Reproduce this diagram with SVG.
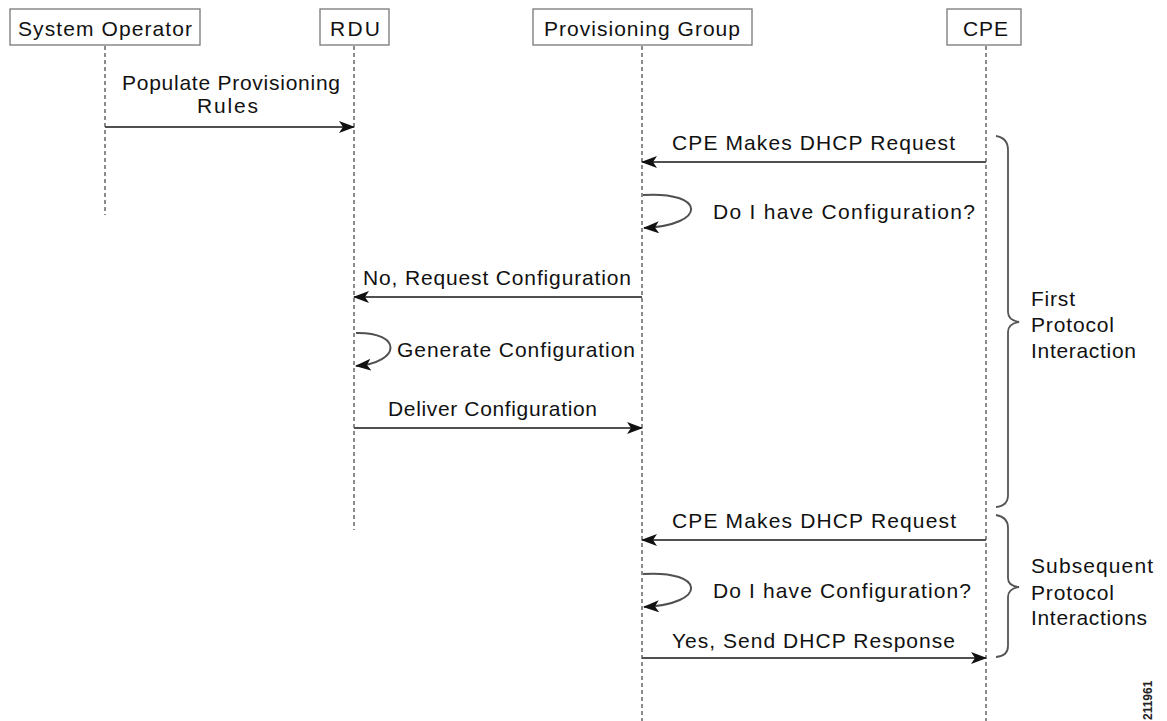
<svg xmlns="http://www.w3.org/2000/svg" width="1167" height="721" viewBox="0 0 1167 721">
<style>
.t{font-family:"Liberation Sans",Arial,sans-serif;font-size:21px;fill:#111;}
.box{fill:#fff;stroke:#777;stroke-width:1.3;}
.life{stroke:#666;stroke-width:1.5;stroke-dasharray:4 3;fill:none;}
.msg{stroke:#505050;stroke-width:2;fill:none;}
.brace{stroke:#555;stroke-width:1.8;fill:none;}
</style>
<defs>
<marker id="ah" markerWidth="17" markerHeight="12" refX="15" refY="6" orient="auto" markerUnits="userSpaceOnUse">
<path d="M0,0 L16,6 L0,12 L4,6 z" fill="#111"/>
</marker>
</defs>
<rect width="1167" height="721" fill="#fff"/>
<g id="lifelines">
<line class="life" x1="105" y1="46" x2="105" y2="215"/>
<line class="life" x1="354" y1="46" x2="354" y2="530"/>
<line class="life" x1="642" y1="46" x2="642" y2="721"/>
<line class="life" x1="986" y1="46" x2="986" y2="721"/>
</g>
<g id="node-system-operator">
<rect class="box" x="10" y="9" width="190" height="36"/>
<text class="t" x="18" y="36" textLength="174" lengthAdjust="spacing">System Operator</text>
</g>
<g id="node-rdu">
<rect class="box" x="320" y="9" width="69" height="36"/>
<text class="t" x="330" y="36" textLength="50" lengthAdjust="spacing">RDU</text>
</g>
<g id="node-provisioning-group">
<rect class="box" x="533" y="9" width="219" height="36"/>
<text class="t" x="544" y="36" textLength="196" lengthAdjust="spacing">Provisioning Group</text>
</g>
<g id="node-cpe">
<rect class="box" x="947" y="9" width="74" height="36"/>
<text class="t" x="963" y="36" textLength="45" lengthAdjust="spacing">CPE</text>
</g>
<g id="connectors">
<line class="msg" x1="105" y1="127" x2="354" y2="127" marker-end="url(#ah)"/>
<line class="msg" x1="986" y1="162" x2="642" y2="162" marker-end="url(#ah)"/>
<path class="msg" d="M643,195 C706,191 708,225 644,228" marker-end="url(#ah)"/>
<line class="msg" x1="642" y1="297" x2="354" y2="297" marker-end="url(#ah)"/>
<path class="msg" d="M356,333 C402,332 402,362 356,366" marker-end="url(#ah)"/>
<line class="msg" x1="354" y1="428" x2="642" y2="428" marker-end="url(#ah)"/>
<line class="msg" x1="986" y1="540" x2="642" y2="540" marker-end="url(#ah)"/>
<path class="msg" d="M643,574 C706,570 708,604 644,607" marker-end="url(#ah)"/>
<line class="msg" x1="642" y1="658" x2="986" y2="658" marker-end="url(#ah)"/>
</g>
<g id="labels">
<text class="t" x="122" y="90" textLength="218" lengthAdjust="spacing">Populate Provisioning</text>
<text class="t" x="197" y="113" textLength="61" lengthAdjust="spacing">Rules</text>
<text class="t" x="672" y="150" textLength="283" lengthAdjust="spacing">CPE Makes DHCP Request</text>
<text class="t" x="713" y="219" textLength="262" lengthAdjust="spacing">Do I have Configuration?</text>
<text class="t" x="363" y="285" textLength="268" lengthAdjust="spacing">No, Request Configuration</text>
<text class="t" x="397" y="357" textLength="238" lengthAdjust="spacing">Generate Configuration</text>
<text class="t" x="388" y="416" textLength="209" lengthAdjust="spacing">Deliver Configuration</text>
<text class="t" x="672" y="528" textLength="284" lengthAdjust="spacing">CPE Makes DHCP Request</text>
<text class="t" x="713" y="598" textLength="258" lengthAdjust="spacing">Do I have Configuration?</text>
<text class="t" x="672" y="648" textLength="283" lengthAdjust="spacing">Yes, Send DHCP Response</text>
</g>
<g id="group-first">
<path class="brace" d="M996,136 Q1008,138 1008,150 L1008,312 Q1008,320 1019,322 Q1008,324 1008,332 L1008,495 Q1008,506 996,507"/>
<text class="t" x="1031" y="306" textLength="44" lengthAdjust="spacing">First</text>
<text class="t" x="1031" y="332" textLength="83" lengthAdjust="spacing">Protocol</text>
<text class="t" x="1031" y="358" textLength="105" lengthAdjust="spacing">Interaction</text>
</g>
<g id="group-subsequent">
<path class="brace" d="M996,515 Q1008,517 1008,528 L1008,578 Q1008,586 1019,587 Q1008,589 1008,597 L1008,646 Q1008,656 996,657"/>
<text class="t" x="1031" y="573" textLength="122" lengthAdjust="spacing">Subsequent</text>
<text class="t" x="1031" y="600" textLength="83" lengthAdjust="spacing">Protocol</text>
<text class="t" x="1031" y="625" textLength="116" lengthAdjust="spacing">Interactions</text>
</g>
<text font-family="Liberation Sans,Arial,sans-serif" font-size="12" font-weight="bold" fill="#222" transform="translate(1152,720) rotate(-90)">211961</text>
</svg>
